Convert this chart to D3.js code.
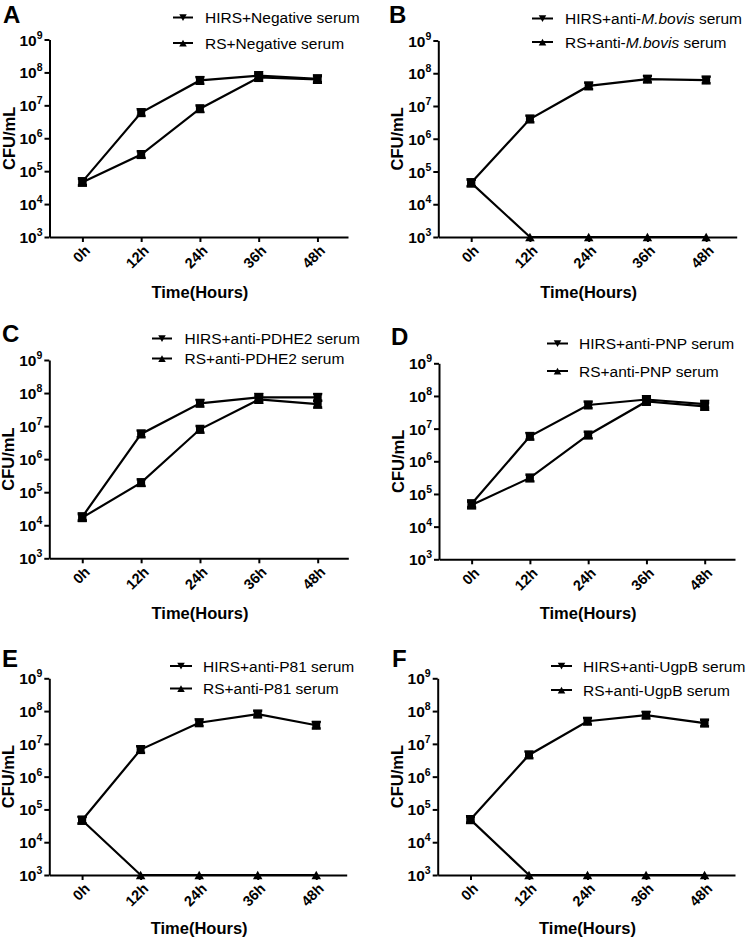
<!DOCTYPE html>
<html><head><meta charset="utf-8">
<script src="https://cdn.jsdelivr.net/npm/d3@7/dist/d3.min.js"></script>
<style>
html,body{margin:0;padding:0;background:#fff;}
svg{display:block;font-family:"Liberation Sans",Arial,sans-serif;}
</style></head>
<body>
<svg id="chart" width="750" height="939"></svg>
<script>
// ---- data ----
const times = ["0h", "12h", "24h", "36h", "48h"];
const yTicks = [1e3, 1e4, 1e5, 1e6, 1e7, 1e8, 1e9];
const panelLetters = ["A", "B", "C", "D", "E", "F"];
const xTitle = "Time(Hours)";
const yTitle = "CFU/mL";
// legend labels, *...* = italic
const hirsLabels = ["HIRS+Negative serum", "HIRS+anti-*M.bovis* serum", "HIRS+anti-PDHE2 serum",
  "HIRS+anti-PNP serum", "HIRS+anti-P81 serum", "HIRS+anti-UgpB serum"];
const rsLabels = ["RS+Negative serum", "RS+anti-*M.bovis* serum", "RS+anti-PDHE2 serum",
  "RS+anti-PNP serum", "RS+anti-P81 serum", "RS+anti-UgpB serum"];
// CFU/mL means
const hirsA = [4.8e4, 6.0e6, 5.7e7, 8.0e7, 6.4e7];
const rsA   = [4.6e4, 3.2e5, 7.9e6, 7.0e7, 6.1e7];
const hirsB = [4.5e4, 4.0e6, 4.1e7, 6.6e7, 6.2e7];
const rsB   = [4.5e4, 1e3, 1e3, 1e3, 1e3];
const hirsC = [1.8e4, 5.8e6, 4.9e7, 7.4e7, 7.4e7];
const rsC   = [1.7e4, 1.95e5, 8.0e6, 6.4e7, 4.6e7];
const hirsD = [5.0e4, 5.8e6, 5.3e7, 7.8e7, 5.6e7];
const rsD   = [4.6e4, 3.1e5, 6.4e6, 6.8e7, 4.8e7];
const hirsE = [4.7e4, 6.7e6, 4.4e7, 8.1e7, 3.7e7];
const rsE   = [4.7e4, 1e3, 1e3, 1e3, 1e3];
const hirsF = [4.9e4, 4.6e6, 4.9e7, 7.5e7, 4.3e7];
const rsF   = [4.9e4, 1e3, 1e3, 1e3, 1e3];
// error (log10 half-width)
const errHirs = [0.1, 0.1, 0.1, 0.1, 0.1];
const errRs   = [0.1, 0.1, 0.1, 0.1, 0.1];
const hirsSeries = [hirsA, hirsB, hirsC, hirsD, hirsE, hirsF];
const rsSeries = [rsA, rsB, rsC, rsD, rsE, rsF];

// ---- layout (positions only) ----
const layout = [
  {ax: 49.5, ay9: 39.5, ay3: 237, aend: 348, lx: 3, ly: 22.5, legS: 173, legE: 193, legT: 205, legY: [17.5, 43], titleY: 297.5},
  {ax: 438.3, ay9: 40.5, ay3: 237, aend: 736.7, lx: 389, ly: 22.5, legS: 532, legE: 553, legT: 565, legY: [18.5, 42], titleY: 297.5},
  {ax: 49.3, ay9: 360, ay3: 558.3, aend: 348.3, lx: 2, ly: 342, legS: 152, legE: 172, legT: 184.5, legY: [338.5, 358.5], titleY: 619},
  {ax: 439, ay9: 363.3, ay3: 559.3, aend: 735, lx: 391, ly: 345, legS: 547, legE: 568, legT: 579, legY: [343.5, 371], titleY: 619},
  {ax: 49.3, ay9: 678.3, ay3: 875, aend: 346.7, lx: 2, ly: 667, legS: 170, legE: 192, legT: 203, legY: [666, 688.5], titleY: 934},
  {ax: 437.7, ay9: 678.3, ay3: 875, aend: 735, lx: 392, ly: 667, legS: 551, legE: 572, legT: 583, legY: [666, 690], titleY: 934}
];

const svg = d3.select("#chart");
const tri = (dir, s) => {
  const h = s * 0.9, w = s;
  return dir === "down"
    ? `M${-w/2},${-h/2}L${w/2},${-h/2}L0,${h/2}Z`
    : `M${-w/2},${h/2}L${w/2},${h/2}L0,${-h/2}Z`;
};

function addRich(textSel, label) {
  const parts = label.split("*");
  parts.forEach((p, i) => {
    if (!p) return;
    textSel.append("tspan").attr("font-style", i % 2 ? "italic" : "normal").text(p);
  });
}

panelLetters.forEach((letter, i) => {
  const L = layout[i];
  const g = svg.append("g");
  const x = d3.scaleLinear().domain([-0.56, 4.52]).range([L.ax, L.aend]);
  const y = d3.scaleLog().domain([1e3, 1e9]).range([L.ay3, L.ay9]);

  // y axis
  const yAxis = g.append("g").attr("transform", `translate(${L.ax},0)`)
    .call(d3.axisLeft(y).tickValues(yTicks).tickFormat("").tickSize(5).tickSizeOuter(0));
  yAxis.selectAll("path,line").attr("stroke", "#000").attr("stroke-width", 2);
  yTicks.forEach(t => {
    const tx = g.append("text").attr("x", L.ax - 7).attr("y", y(t) + 6)
      .attr("text-anchor", "end").attr("font-weight", "bold").attr("font-size", 15.5);
    tx.append("tspan").text("10");
    tx.append("tspan").attr("font-size", 10.5).attr("dy", -7).text(Math.round(Math.log10(t)));
  });

  // x axis
  const xAxis = g.append("g").attr("transform", `translate(0,${L.ay3})`)
    .call(d3.axisBottom(x).tickValues([0, 1, 2, 3, 4]).tickFormat("").tickSize(5).tickSizeOuter(0));
  xAxis.selectAll("path,line").attr("stroke", "#000").attr("stroke-width", 2);
  times.forEach((t, k) => {
    const px = x(k) + 5, py = L.ay3 + 11;
    g.append("text").attr("transform", `translate(${px},${py}) rotate(-45)`)
      .attr("text-anchor", "end").attr("dy", "0.35em")
      .attr("font-weight", "bold").attr("font-size", 14.5).text(t);
  });

  // titles
  g.append("text").attr("x", (x(0) + x(4)) / 2).attr("y", L.titleY)
    .attr("text-anchor", "middle").attr("font-weight", "bold").attr("font-size", 16.5).text(xTitle);
  g.append("text").attr("transform", `translate(${L.ax - 35},${(L.ay3 + L.ay9) / 2}) rotate(-90)`)
    .attr("text-anchor", "middle").attr("font-weight", "bold").attr("font-size", 16.5).text(yTitle);
  g.append("text").attr("x", L.lx).attr("y", L.ly).attr("font-weight", "bold")
    .attr("font-size", 24).text(letter);

  // series
  const series = [
    {vals: hirsSeries[i], err: errHirs, dir: "down"},
    {vals: rsSeries[i], err: errRs, dir: "up"}
  ];
  const line = d3.line().x((d, k) => x(k)).y(d => y(d));
  series.forEach(s => {
    g.append("path").datum(s.vals).attr("d", line)
      .attr("fill", "none").attr("stroke", "#000").attr("stroke-width", 2.2);
  });
  series.forEach(s => {
    s.vals.forEach((v, k) => {
      const cx = x(k), cy = y(v);
      if (v > 1e3) {
        const e = s.err[k];
        const y1 = y(v * Math.pow(10, e)), y2 = y(v / Math.pow(10, e));
        g.append("line").attr("x1", cx).attr("x2", cx).attr("y1", y1).attr("y2", y2)
          .attr("stroke", "#000").attr("stroke-width", 2);
        [y1, y2].forEach(yy => g.append("line").attr("x1", cx - 4.5).attr("x2", cx + 4.5)
          .attr("y1", yy).attr("y2", yy).attr("stroke", "#000").attr("stroke-width", 2.5));
        g.append("rect").attr("x", cx - 4).attr("y", y1).attr("width", 8).attr("height", y2 - y1)
          .attr("fill", "#000");
      }
      g.append("path").attr("transform", `translate(${cx},${cy})`)
        .attr("d", tri(s.dir, 9.5)).attr("fill", "#000");
    });
  });

  // legend
  [hirsLabels[i], rsLabels[i]].forEach((lab, r) => {
    const ly = L.legY[r];
    g.append("line").attr("x1", L.legS).attr("x2", L.legE).attr("y1", ly).attr("y2", ly)
      .attr("stroke", "#000").attr("stroke-width", 2);
    g.append("path").attr("transform", `translate(${(L.legS + L.legE) / 2},${ly})`)
      .attr("d", tri(r === 0 ? "down" : "up", 7.5)).attr("fill", "#000");
    const t = g.append("text").attr("x", L.legT).attr("y", ly + 5.5).attr("font-size", 15.5);
    addRich(t, lab);
  });
});
</script>
</body></html>
